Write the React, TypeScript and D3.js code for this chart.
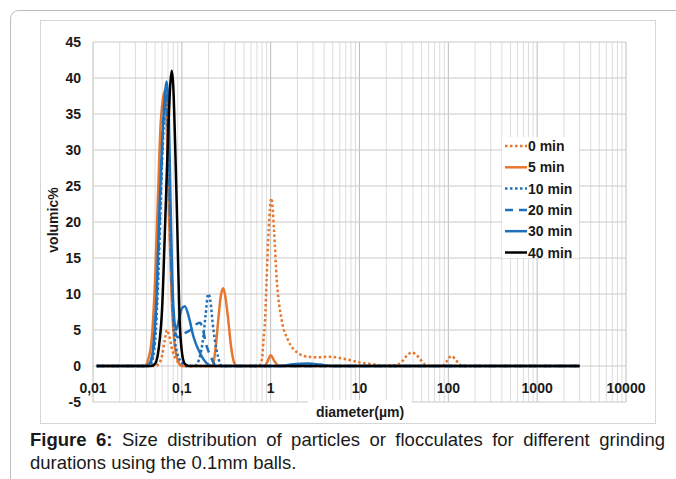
import React from 'react';
import * as d3 from 'd3';

// volumic% per diameter (µm)
const min0: [number, number][] = [
  [0.011, 0], [0.05, 0], [0.055, 0.3], [0.06, 1.5], [0.064, 3.5], [0.068, 5], [0.072, 4.2],
  [0.078, 2.2], [0.085, 1], [0.095, 0.3], [0.11, 0], [0.74, 0], [0.8, 1], [0.83, 3.6],
  [0.865, 6.4], [0.9, 12], [0.95, 19], [1.02, 23.3], [1.09, 18.9], [1.17, 12], [1.33, 6.4],
  [1.57, 3.6], [2.03, 1.8], [2.6, 1.3], [3.5, 1.2], [4.7, 1.3], [6, 1.1], [8, 0.8], [10, 0.5],
  [14, 0.25], [18, 0.1], [25, 0.1], [30, 0.6], [34, 1.4], [38.7, 1.9], [44, 1.5], [50, 0.7],
  [56, 0.1], [65, 0], [85, 0], [95, 0.6], [109, 1.4], [120, 0.9], [135, 0.2], [145, 0], [3000, 0],
];
const min5: [number, number][] = [
  [0.011, 0], [0.038, 0], [0.042, 1], [0.046, 4], [0.05, 12], [0.054, 24], [0.058, 34],
  [0.0645, 38.3], [0.068, 32], [0.072, 20], [0.077, 9], [0.083, 3], [0.09, 0.8], [0.1, 0],
  [0.22, 0], [0.24, 2.5], [0.257, 6.4], [0.275, 9.8], [0.293, 10.8], [0.31, 9.5], [0.333, 6.4],
  [0.36, 2.5], [0.39, 0.4], [0.42, 0], [0.85, 0], [0.92, 0.6], [1.0, 1.5], [1.1, 0.7],
  [1.22, 0.05], [1.35, 0], [3000, 0],
];
const min10: [number, number][] = [
  [0.011, 0], [0.043, 0], [0.047, 1], [0.051, 5], [0.055, 14], [0.059, 26], [0.063, 34],
  [0.066, 37], [0.07, 32], [0.074, 20], [0.078, 10], [0.083, 4], [0.09, 1.5], [0.1, 0.5],
  [0.11, 0], [0.14, 0], [0.155, 0.8], [0.17, 3], [0.185, 7], [0.198, 10], [0.21, 9],
  [0.222, 6], [0.236, 3.5], [0.257, 1.2], [0.28, 0], [3000, 0],
];
const min20: [number, number][] = [
  [0.011, 0], [0.042, 0], [0.046, 1], [0.05, 5], [0.054, 14], [0.058, 25], [0.062, 34],
  [0.066, 38.5], [0.07, 33], [0.074, 20], [0.078, 10], [0.083, 5], [0.09, 4], [0.105, 4.5],
  [0.125, 5], [0.145, 5.8], [0.16, 6], [0.175, 4.8], [0.186, 3.2], [0.2, 2], [0.213, 1.2],
  [0.235, 0.2], [0.26, 0], [3000, 0],
];
const min30: [number, number][] = [
  [0.011, 0], [0.04, 0], [0.044, 0.5], [0.048, 3], [0.052, 10], [0.056, 22], [0.06, 31],
  [0.064, 37], [0.0676, 39.5], [0.071, 36], [0.074, 25], [0.077, 15], [0.081, 7.5],
  [0.086, 5], [0.093, 6.5], [0.1, 8], [0.108, 8.3], [0.12, 6.8], [0.135, 4.1], [0.16, 1.8],
  [0.19, 0.4], [0.22, 0], [1.3, 0], [1.8, 0.25], [2.6, 0.35], [3.6, 0.2], [5, 0], [3000, 0],
];
const min40: [number, number][] = [
  [0.011, 0], [0.045, 0], [0.05, 0.3], [0.055, 2.5], [0.06, 8], [0.065, 20], [0.07, 32],
  [0.0745, 39.5], [0.077, 41], [0.08, 39], [0.084, 31], [0.089, 19], [0.094, 7],
  [0.1, 2], [0.108, 0.3], [0.12, 0], [3000, 0],
];

const seriesNames = ['0 min', '5 min', '10 min', '20 min', '30 min', '40 min'];
const xTicks = [0.01, 0.1, 1, 10, 100, 1000, 10000];
const xTickLabels = ['0,01', '0,1', '1', '10', '100', '1000', '10000'];
const yTicks = [-5, 0, 5, 10, 15, 20, 25, 30, 35, 40, 45];

const ORANGE = '#E8772E';
const BLUE = '#1F70BA';
const styles = [
  { color: ORANGE, dash: '2.5 2.5' },
  { color: ORANGE, dash: null },
  { color: BLUE, dash: '2.5 2.5' },
  { color: BLUE, dash: '8 6' },
  { color: BLUE, dash: null },
  { color: '#000000', dash: null },
];

export default function App() {
  const series = [min0, min5, min10, min20, min30, min40];
  const x = d3.scaleLog().domain([0.01, 10000]).range([93, 626]);
  const y = d3.scaleLinear().domain([-5, 45]).range([402, 42]);
  const line = d3.line<[number, number]>()
    .x(d => x(d[0]))
    .y(d => y(d[1]))
    .curve(d3.curveMonotoneX);

  // log grid: 2..9 per decade
  const minor: number[] = [];
  for (let e = -2; e < 4; e++) {
    for (let k = 2; k <= 9; k++) minor.push(k * Math.pow(10, e));
  }
  const font = "'Liberation Sans', Arial, sans-serif";

  return (
    <div style={{ position: 'absolute', left: 0, top: 0, width: 676, height: 479, background: '#fff' }}>
      <svg width={676} height={479} style={{ display: 'block' }} fontFamily={font}>
        <rect x={10.5} y={10.5} width={720} height={520} rx={8} fill="none" stroke="#bdbdbd" />
        <rect x={40.5} y={20.5} width={615} height={403} fill="#fff" stroke="#d6d6d6" />

        {/* grid */}
        {minor.map(v => (
          <line key={'m' + v} x1={x(v)} x2={x(v)} y1={42} y2={402} stroke="#dcdcdc" />
        ))}
        {xTicks.map(v => (
          <line key={'M' + v} x1={x(v)} x2={x(v)} y1={42} y2={402} stroke="#bdbdbd" />
        ))}
        {yTicks.map(v => (
          <line key={'h' + v} x1={93} x2={626} y1={y(v)} y2={y(v)} stroke="#cacaca" />
        ))}

        {/* series */}
        {series.map((s, i) => (
          <path key={seriesNames[i]} d={line(s) || ''} fill="none" stroke={styles[i].color}
            strokeWidth={2.5} strokeDasharray={styles[i].dash || undefined} />
        ))}

        {/* y tick labels */}
        {yTicks.map(v => (
          <text key={'yl' + v} x={81} y={y(v)} dy="0.36em" textAnchor="end"
            fontSize={14} fontWeight="bold" fill="#1a1a1a">{v}</text>
        ))}
        {/* x tick labels */}
        {xTicks.map((v, i) => (
          <text key={'xl' + v} x={x(v)} y={388} dy="0.36em" textAnchor="middle"
            fontSize={14} fontWeight="bold" fill="#1a1a1a">{xTickLabels[i]}</text>
        ))}

        {/* axis titles */}
        <rect x={308} y={400} width={104} height={21} fill="#fff" />
        <text x={360} y={412} dy="0.36em" textAnchor="middle" fontSize={14} fontWeight="bold"
          fill="#1a1a1a">diameter(µm)</text>
        <text transform="translate(53,220) rotate(-90)" dy="0.36em" textAnchor="middle"
          fontSize={14} fontWeight="bold" fill="#1a1a1a">volumic%</text>

        {/* legend */}
        <rect x={502} y={137} width={77} height={121} fill="#fff" />
        {seriesNames.map((n, i) => {
          const ly = 146 + i * 21.3;
          return (
            <g key={'lg' + n}>
              <line x1={505} x2={527} y1={ly} y2={ly} stroke={styles[i].color} strokeWidth={2.5}
                strokeDasharray={styles[i].dash || undefined} />
              <text x={528} y={ly} dy="0.36em" fontSize={14} fontWeight="bold" fill="#1a1a1a">{n}</text>
            </g>
          );
        })}
      </svg>
      <div style={{
        position: 'absolute', left: 30, top: 428, width: 635, fontFamily: font,
        fontSize: 18.5, lineHeight: '23px', color: '#1a1a1a',
      }}>
        <div style={{ textAlign: 'justify', textAlignLast: 'justify' as any }}>
          <b>Figure 6:</b> <span>Size distribution of particles or flocculates for different grinding</span>
        </div>
        <div>durations using the 0.1mm balls.</div>
      </div>
    </div>
  );
}
